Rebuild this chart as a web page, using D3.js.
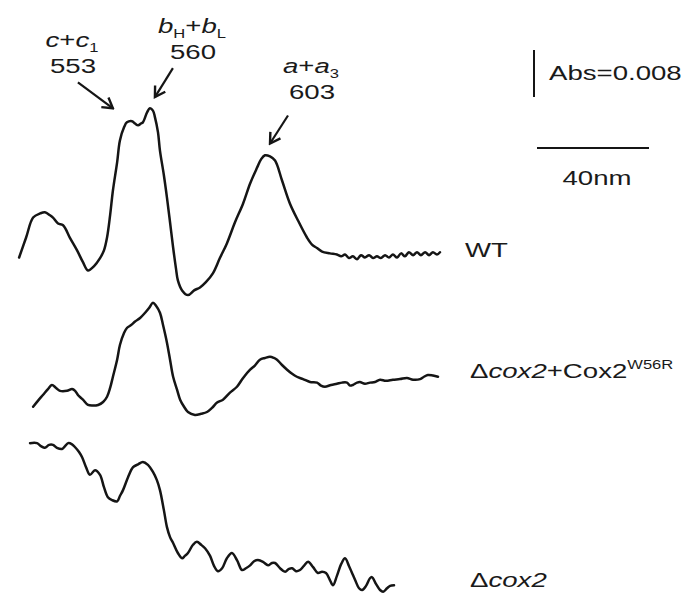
<!DOCTYPE html>
<html>
<head>
<meta charset="utf-8">
<script src="https://cdn.jsdelivr.net/npm/d3@7"></script>
<style>
  html, body { margin: 0; padding: 0; background: #fff; }
  svg { display: block; }
  text { font-family: "Liberation Sans", Arial, Helvetica, sans-serif; fill: #1a1a1a; }
</style>
</head>
<body>
<div id="chart"></div>
<script>
// wavelengths (nm) and difference absorbance (mAbs, relative to each trace's baseline)
const wtWavelength = [512.9,515.4,517.9,520.4,522.1,523.9,525.0,526.8,528.6,531.1,533.6,535.7,537.5,539.6,541.8,543.2,544.3,545.4,546.4,547.9,548.9,550.4,551.4,553.2,554.3,555.4,556.4,557.1,558.6,559.6,560.7,561.4,562.5,563.2,564.6,565.7,566.8,567.9,568.9,569.6,571.1,573.2,575.4,577.5,579.6,582.1,584.6,587.1,590.0,592.9,595.4,597.9,599.3,600.7,602.5,604.3,606.8,609.6,612.5,615.7,617.5,619.3,621.1,623.9,626.4,627.9,629.3,630.7,632.1,633.6,635.0,636.4,637.9,639.3,640.7,642.1,643.6,645.0,646.4,647.9,649.3,650.7,652.1,653.6,655.0,656.4,657.9,659.3,660.7,662.1,663.2];
const wtAbs = [7.3,10.7,14.1,14.8,15.0,14.5,14.1,13.1,12.8,10.6,8.5,6.5,5.1,5.8,7.2,8.5,10.7,14.5,18.7,23.5,27.2,29.5,30.3,30.5,30.1,29.8,30.1,30.3,32.0,32.7,32.3,31.2,28.6,25.5,21.3,17.5,13.3,9.0,5.5,3.4,1.7,0.9,1.7,2.2,3.1,4.6,7.2,9.7,13.3,16.5,19.9,22.6,24.0,24.7,24.5,23.8,20.4,16.5,13.6,10.7,9.5,8.9,8.3,8.0,7.8,7.5,7.8,7.2,7.5,7.0,7.7,7.3,7.7,7.2,7.5,7.2,7.7,7.3,7.8,7.3,8.0,7.5,8.2,7.7,8.2,7.7,8.2,7.7,8.2,7.8,8.2];

const w56rWavelength = [517.9,519.6,521.4,523.2,524.6,526.1,527.5,530.0,531.8,532.9,533.9,535.7,537.5,539.3,541.1,542.9,544.3,545.4,546.4,547.9,548.9,550.4,551.4,552.9,554.3,556.1,557.9,559.3,560.7,561.8,563.2,564.3,565.7,566.8,567.9,569.3,570.4,571.8,573.2,575.7,577.9,580.0,581.8,583.6,585.7,588.2,590.7,592.9,595.4,597.1,598.9,600.7,602.5,603.9,605.0,606.8,608.6,610.4,612.1,614.3,616.8,619.3,620.7,622.1,624.3,626.4,628.2,630.0,631.1,632.1,633.6,634.6,636.4,638.2,640.0,641.8,643.9,646.4,648.9,651.4,653.6,656.1,657.5,658.9,660.7,662.5];
const w56rAbs = [2.4,3.4,4.4,5.4,6.1,5.6,5.1,5.1,5.4,5.1,4.4,3.6,2.7,2.6,2.7,3.2,4.1,5.6,7.5,10.4,12.9,15.0,15.8,16.3,16.9,17.5,18.4,19.2,20.1,19.6,18.4,16.3,13.3,10.4,7.5,5.3,3.6,2.4,1.5,1.0,1.2,1.5,2.2,3.1,3.6,4.8,5.8,7.3,8.7,9.4,10.4,10.7,10.9,10.7,10.4,9.5,8.7,8.0,7.5,7.1,6.6,6.5,6.0,5.8,6.1,6.3,6.5,6.5,6.0,6.1,6.5,6.6,6.3,6.5,6.6,7.0,6.8,7.0,7.1,7.3,7.0,7.1,7.5,7.8,7.7,7.5];

const cox2Wavelength = [516.8,519.3,520.7,522.1,523.6,525.0,526.4,528.2,529.3,530.4,531.8,532.9,534.3,535.4,536.8,538.2,540.0,541.8,543.2,544.6,546.1,547.9,548.9,550.0,551.8,553.6,555.4,557.1,558.9,560.7,562.1,563.2,564.6,565.7,566.8,567.9,569.6,571.1,572.1,573.2,575.0,576.4,577.9,579.3,581.1,582.5,583.9,585.4,587.1,588.9,590.7,592.5,593.9,595.4,596.8,598.2,600.0,601.8,603.2,604.3,606.1,607.9,609.3,610.4,611.8,613.2,614.6,616.1,617.9,619.6,621.1,622.5,623.9,625.0,626.4,627.9,629.3,630.7,631.8,632.9,634.3,635.4,636.8,638.2,638.9,640.4,641.8,642.9,644.3,645.4,646.8];
const cox2Abs = [26.2,26.2,25.7,25.4,25.9,25.9,25.4,25.2,25.7,26.2,26.0,25.5,24.7,23.8,22.1,20.8,21.6,20.8,18.7,17.0,16.5,16.3,17.2,18.2,20.4,22.1,22.6,23.0,22.5,21.3,19.9,18.2,14.8,11.9,10.2,9.2,7.5,6.6,7.0,7.5,8.9,9.4,8.9,8.3,7.0,5.3,4.4,4.9,6.6,7.5,6.3,4.6,4.9,5.4,6.1,6.3,6.0,5.4,5.8,5.8,4.9,4.3,4.8,4.9,4.4,4.6,5.3,6.0,5.1,4.1,4.3,4.1,2.9,2.0,3.6,5.6,6.6,5.3,4.1,2.9,1.5,1.2,1.9,3.2,3.4,2.2,1.2,0.9,1.5,1.9,2.0];

// vertical stacking of the traces (mAbs)
const traceOffsets = [51, 30.5, 0.5];

// peak annotations: name parts, wavelength, arrow tip (nm, mAbs on WT trace)
const peakNames = [
  [["c", "i"], ["+", ""], ["c", "i"], ["1", "sub"]],
  [["b", "i"], ["H", "sub"], ["+", ""], ["b", "i"], ["L", "sub"]],
  [["a", "i"], ["+", ""], ["a", "i"], ["3", "sub"]]
];
const peakNumbers = ["553", "560", "603"];
const peakTipNm = [546.4, 561.4, 602.5];
const peakTipAbs = [32.7, 34.6, 26.7];

const scaleBarAbs = 8;      // 0.008 Abs
const scaleBarNm = 40;

const width = 688, height = 596;
const stretch = 1.38; // the figure's lettering is horizontally wide

const svg = d3.select('#chart')
  .append('svg')
  .attr('width', width)
  .attr('height', height);

svg.append('rect').attr('width', width).attr('height', height).attr('fill', '#fff');

const x = d3.scaleLinear().domain([500, 700]).range([-17, 543]);
const y = d3.scaleLinear().domain([0, 100]).range([600, 12.5]);

const line = d3.line()
  .x(d => x(d[0]))
  .y(d => y(d[1]))
  .curve(d3.curveCatmullRom.alpha(0.5));

const traces = [
  { nm: wtWavelength, abs: wtAbs, off: traceOffsets[0] },
  { nm: w56rWavelength, abs: w56rAbs, off: traceOffsets[1] },
  { nm: cox2Wavelength, abs: cox2Abs, off: traceOffsets[2] }
];

svg.selectAll('path.trace')
  .data(traces)
  .enter()
  .append('path')
  .attr('class', 'trace')
  .attr('d', t => line(t.nm.map((n, i) => [n, t.abs[i] + t.off])))
  .attr('fill', 'none')
  .attr('stroke', '#151515')
  .attr('stroke-width', 2.5)
  .attr('stroke-linejoin', 'round')
  .attr('stroke-linecap', 'round');

// helper: stretched text with tspans
function label(cx, base, parts, anchor, size) {
  const g = svg.append('g')
    .attr('transform', `translate(${cx},${base}) scale(${stretch},1)`);
  const t = g.append('text')
    .attr('text-anchor', anchor)
    .style('font-size', size + 'px');
  parts.forEach((p, i) => {
    const s = t.append('tspan').text(p[0]);
    if (p[1] === 'i') s.style('font-style', 'italic');
    if (p[1] === 'sub') s.style('font-size', Math.round(size * 0.62) + 'px').attr('dy', 5);
    if (p[1] === 'sup') s.style('font-size', Math.round(size * 0.62) + 'px').attr('dy', -9);
    const prev = parts[i - 1];
    if (prev && (prev[1] === 'sub') && p[1] !== 'sub') s.attr('dy', -5);
  });
  return g;
}

// peak labels and arrows
const labelCenters = [72, 192, 311];
const labelBase = [47, 33, 73];
const tailOffsets = [[-35, -26], [18, -29], [18, -28]];

svg.append('defs').append('marker')
  .attr('id', 'head')
  .attr('viewBox', '-12 -8 14 16')
  .attr('markerWidth', 14)
  .attr('markerHeight', 16)
  .attr('markerUnits', 'userSpaceOnUse')
  .attr('orient', 'auto')
  .append('path')
  .attr('d', 'M-10,-6 L0,0 L-10,6')
  .attr('fill', 'none')
  .attr('stroke', '#151515')
  .attr('stroke-width', 2.4);

peakNames.forEach((parts, i) => {
  label(labelCenters[i], labelBase[i], parts, 'middle', 20);
  label(labelCenters[i] + 1, labelBase[i] + 26, [[peakNumbers[i], '']], 'middle', 20);
  const tx = x(peakTipNm[i]), ty = y(peakTipAbs[i] + traceOffsets[0]);
  svg.append('line')
    .attr('x1', tx + tailOffsets[i][0]).attr('y1', ty + tailOffsets[i][1])
    .attr('x2', tx).attr('y2', ty)
    .attr('stroke', '#151515')
    .attr('stroke-width', 2.2)
    .attr('marker-end', 'url(#head)');
});

// scale bars
const barX = 534, barTop = 50;
svg.append('line')
  .attr('x1', barX).attr('x2', barX)
  .attr('y1', barTop).attr('y2', barTop + (y(0) - y(scaleBarAbs)))
  .attr('stroke', '#151515').attr('stroke-width', 2);
label(549, 80, [['Abs=0.008', '']], 'start', 20);

const hx = 537, hy = 148;
svg.append('line')
  .attr('x1', hx).attr('x2', hx + (x(500 + scaleBarNm) - x(500)))
  .attr('y1', hy).attr('y2', hy)
  .attr('stroke', '#151515').attr('stroke-width', 2);
label(597, 185, [['40nm', '']], 'middle', 20);

// trace names
label(465, 257, [['WT', '']], 'start', 20);
label(470, 378, [['\u0394', ''], ['cox2', 'i'], ['+Cox2', ''], ['W56R', 'sup']], 'start', 20);
label(470, 587, [['\u0394', ''], ['cox2', 'i']], 'start', 20);
</script>
</body>
</html>
